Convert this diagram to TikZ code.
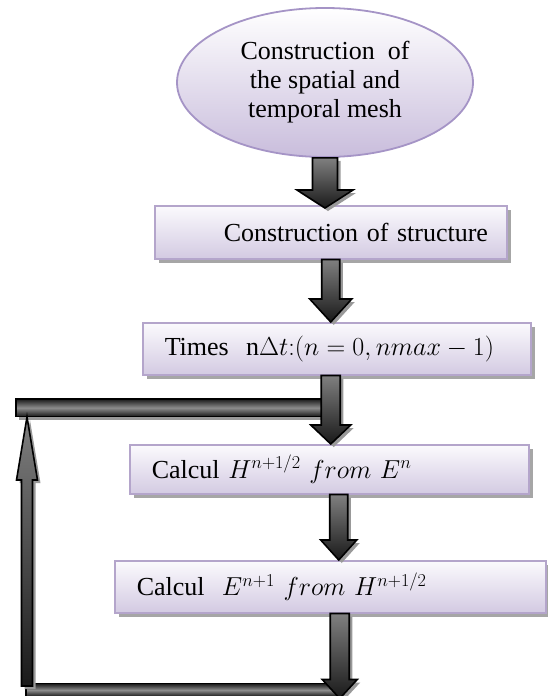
\documentclass[tikz,border=0pt]{standalone}
\usepackage{fix-cm}
\usepackage{fontspec}
\setmainfont{Liberation Serif}
\usepackage{xcolor}
\usepackage{tikz}
\usetikzlibrary{calc, shadows, shapes.geometric}
\definecolor{meshedge}{HTML}{A594C6}
\definecolor{meshfill}{HTML}{C9BDDC}
\definecolor{boxedge}{HTML}{B4A5CB}
\definecolor{boxfill}{HTML}{D3CAE2}
\definecolor{boxtop}{HTML}{FBFAFD}
% block arrow: from, to, shaft half width, head half width, head length
\newcommand{\blockarrow}[5]{%
  \coordinate (ba) at ($(#2)!#5!(#1)$);
  \draw[flow] ($(#1)!#3!90:(#2)$) -- ($(ba)!#3!90:(#2)$) -- ($(ba)!#4!90:(#2)$) -- (#2)
    -- ($(ba)!#4!-90:(#2)$) -- ($(ba)!#3!-90:(#2)$) -- ($(#1)!#3!-90:(#2)$) -- cycle;
}

\begin{document}
\begin{tikzpicture}[
  x=1pt, y=-1pt,
  font=\fontsize{26}{29}\selectfont,
  mesh/.style={
    ellipse,
    draw=meshedge,
    line width=1.8pt,
    top color=white,
    bottom color=meshfill,
    minimum width=296pt,
    minimum height=149pt,
    inner sep=0pt,
    align=center
  },
  box/.style={
    draw=boxedge,
    line width=1.5pt,
    top color=boxtop,
    bottom color=boxfill,
    anchor=north west,
    inner xsep=22pt,
    inner ysep=0pt,
    align=left,
    drop shadow={shadow xshift=4pt, shadow yshift=-4pt, fill=black!35, opacity=1}
  },
  flow/.style={
    draw=black,
    line width=1.6pt,
    top color=black!50,
    bottom color=black!90,
    drop shadow={shadow xshift=3pt, shadow yshift=-3pt, fill=black!40, opacity=1}
  },
  bar/.style={
    draw=black,
    line width=1.6pt,
    top color=black!90,
    bottom color=black!90,
    middle color=black!45,
    drop shadow={shadow xshift=3pt, shadow yshift=-3pt, fill=black!40, opacity=1}
  }
]
\useasboundingbox (0,0) rectangle (548,696);

\node[mesh] (mesh) at (325,82.5) {Construction\ \ of\\the spatial and\\temporal mesh};

\node[box, inner xsep=11pt, text width=330pt, minimum height=53pt] (struct) at (154,205)
  {\hspace*{58pt}Construction of structure};

\node[box, text width=344pt, minimum height=52pt] (times) at (142,322)
  {Times\ \ n$\Delta t{:}(n = 0, nmax - 1)$};

\node[box, text width=355pt, minimum height=49pt] (calcH) at (129,444)
  {Calcul $H^{n+1/2}\ from\ E^n$};

\node[box, text width=387pt, minimum height=52pt] (calcE) at (114,560)
  {Calcul\ \ $E^{n+1}\ from\ H^{n+1/2}$};

% anchors of the arrows
\coordinate (a1s) at (mesh.south);
\coordinate (a1t) at ($(mesh.south |- struct.north)+(0,3)$);
\coordinate (a2s) at (struct.south);
\coordinate (a2t) at (struct.south |- times.north);
\coordinate (a3s) at (times.south -| struct.south);
\coordinate (a3t) at (struct.south |- calcH.north);
\coordinate (a4s) at ([xshift=9.5pt]calcH.south);
\coordinate (a4t) at (a4s |- calcE.north);
\coordinate (a5s) at ([xshift=9.5pt]calcE.south);
\coordinate (a5t) at ($(a5s)+(0,85)$);
\coordinate (loopin) at ($(a3s)+(0,33)$);
\coordinate (looptop) at (16,407);
\coordinate (loopbot) at (26,690);

% loop back
\draw[bar] ($(looptop)+(0,-8)$) rectangle ($(loopin)+(0,8)$);
\draw[bar] ($(loopbot)+(0,-6.5)$) rectangle ($(a5t |- loopbot)+(0,6.5)$);
\blockarrow{$(loopbot)+(1,-4)$}{27,417}{5.5pt}{10.5pt}{63pt}

\blockarrow{a1s}{a1t}{12.5pt}{28pt}{18pt}
\blockarrow{a2s}{a2t}{9pt}{21pt}{23pt}
\blockarrow{a3s}{a3t}{9.5pt}{20pt}{19pt}
\blockarrow{a4s}{a4t}{9pt}{18pt}{20pt}
\blockarrow{a5s}{a5t}{9.5pt}{17.5pt}{19pt}

\end{tikzpicture}
\end{document}
